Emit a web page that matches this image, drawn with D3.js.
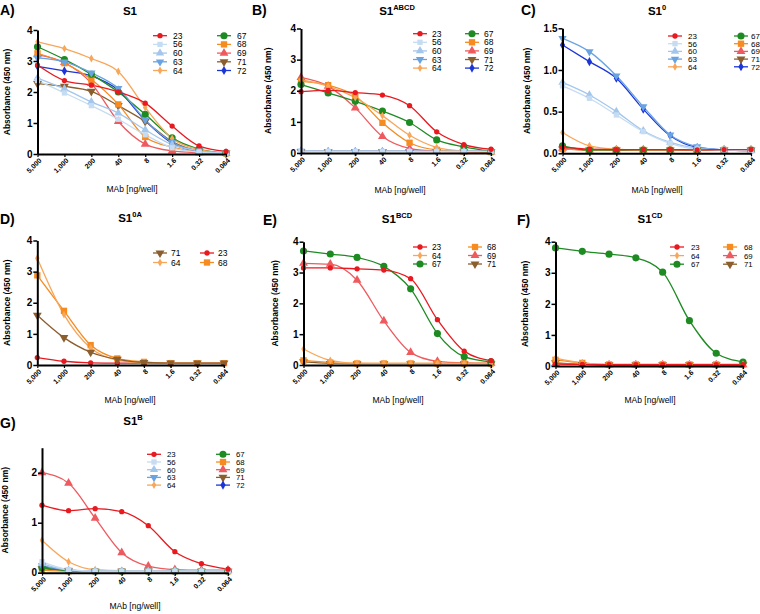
<!DOCTYPE html>
<html>
<head>
<meta charset="utf-8">
<script src="https://cdn.jsdelivr.net/npm/d3@7"></script>
<style>
  body { margin: 0; background: #fff; }
  svg { font-family: "Liberation Sans", Arial, sans-serif; }
</style>
</head>
<body>
<div id="chart"></div>
<script>
// dilution steps on the x axis
const doses = ["5,000", "1,000", "200", "40", "8", "1.6", "0.32", "0.064"];
const allMabs = ["23", "56", "60", "63", "64", "67", "68", "69", "71", "72"];

// A) S1
const valuesA = [
  [2.87, 2.37, 2.22, 2.0, 1.64, 0.9, 0.26, 0.08],
  [2.37, 1.97, 1.56, 1.12, 0.62, 0.2, 0.06, 0.02],
  [2.45, 2.1, 1.68, 1.32, 0.78, 0.3, 0.1, 0.03],
  [3.1, 2.97, 2.62, 2.12, 1.1, 0.38, 0.1, 0.03],
  [3.62, 3.4, 3.08, 2.66, 1.5, 0.5, 0.14, 0.03],
  [3.46, 3.05, 2.57, 2.0, 1.28, 0.52, 0.16, 0.03],
  [3.25, 2.93, 2.4, 1.6, 0.55, 0.22, 0.06, 0.02],
  [3.2, 2.95, 2.28, 1.05, 0.32, 0.1, 0.04, 0.02],
  [2.27, 2.18, 2.02, 1.56, 1.05, 0.4, 0.1, 0.03],
  [2.83, 2.68, 2.52, 2.06, 1.08, 0.35, 0.08, 0.02]
];
// B) S1 ABCD
const valuesB = [
  [1.97, 2.01, 1.94, 1.86, 1.52, 0.68, 0.27, 0.12],
  [0.06, 0.05, 0.05, 0.05, 0.05, 0.05, 0.05, 0.05],
  [0.07, 0.05, 0.05, 0.05, 0.05, 0.05, 0.05, 0.05],
  [0.06, 0.05, 0.05, 0.05, 0.05, 0.05, 0.05, 0.05],
  [2.35, 2.15, 1.78, 1.2, 0.57, 0.18, 0.06, 0.03],
  [2.2, 1.93, 1.66, 1.35, 0.98, 0.42, 0.2, 0.06],
  [2.3, 2.18, 1.83, 0.97, 0.33, 0.1, 0.05, 0.03],
  [2.43, 2.15, 1.45, 0.53, 0.15, 0.06, 0.04, 0.03],
  [0.05, 0.05, 0.05, 0.05, 0.05, 0.05, 0.05, 0.05],
  [0.05, 0.05, 0.05, 0.05, 0.05, 0.05, 0.05, 0.05]
];
// C) S1 0
const valuesC = [
  [0.07, 0.05, 0.045, 0.045, 0.045, 0.04, 0.045, 0.045],
  [0.81, 0.66, 0.46, 0.26, 0.12, 0.05, 0.04, 0.03],
  [0.85, 0.7, 0.5, 0.27, 0.13, 0.06, 0.04, 0.03],
  [1.38, 1.22, 0.93, 0.56, 0.22, 0.08, 0.04, 0.03],
  [0.25, 0.09, 0.05, 0.04, 0.04, 0.04, 0.04, 0.04],
  [0.09, 0.04, 0.04, 0.04, 0.04, 0.04, 0.04, 0.04],
  [0.05, 0.04, 0.04, 0.04, 0.04, 0.04, 0.04, 0.04],
  [0.06, 0.04, 0.04, 0.04, 0.04, 0.04, 0.04, 0.04],
  [0.05, 0.04, 0.04, 0.04, 0.04, 0.04, 0.04, 0.04],
  [1.3, 1.1, 0.9, 0.53, 0.21, 0.07, 0.04, 0.03]
];
// D) S1 0A
const mabsD = ["71", "64", "23", "68"];
const valuesD = [
  [1.6, 0.88, 0.41, 0.18, 0.08, 0.06, 0.06, 0.06],
  [3.43, 1.62, 0.55, 0.16, 0.07, 0.05, 0.05, 0.05],
  [0.24, 0.12, 0.07, 0.06, 0.06, 0.05, 0.05, 0.05],
  [2.88, 1.74, 0.64, 0.21, 0.1, 0.06, 0.06, 0.06]
];
// E) S1 BCD and F) S1 CD
const mabsEF = ["23", "64", "67", "68", "69", "71"];
const valuesE = [
  [3.15, 3.15, 3.12, 3.08, 2.8, 1.47, 0.45, 0.14],
  [0.52, 0.15, 0.06, 0.05, 0.05, 0.05, 0.05, 0.05],
  [3.7, 3.6, 3.49, 3.2, 2.47, 1.02, 0.27, 0.1],
  [0.15, 0.08, 0.05, 0.05, 0.05, 0.05, 0.05, 0.05],
  [3.3, 3.27, 2.75, 1.43, 0.41, 0.12, 0.07, 0.06],
  [0.1, 0.05, 0.04, 0.04, 0.04, 0.04, 0.04, 0.04]
];
const valuesF = [
  [0.06, 0.05, 0.04, 0.04, 0.04, 0.04, 0.04, 0.04],
  [0.25, 0.1, 0.05, 0.05, 0.05, 0.05, 0.05, 0.05],
  [3.8, 3.69, 3.6, 3.48, 3.02, 1.46, 0.41, 0.13],
  [0.2, 0.1, 0.05, 0.05, 0.05, 0.05, 0.05, 0.05],
  [0.08, 0.05, 0.04, 0.04, 0.04, 0.04, 0.04, 0.04],
  [0.1, 0.05, 0.04, 0.04, 0.04, 0.04, 0.04, 0.04]
];
// G) S1 B
const valuesG = [
  [1.35, 1.24, 1.28, 1.22, 0.94, 0.42, 0.18, 0.07],
  [0.22, 0.06, 0.03, 0.03, 0.03, 0.03, 0.03, 0.03],
  [0.18, 0.05, 0.03, 0.03, 0.03, 0.03, 0.03, 0.03],
  [0.14, 0.05, 0.03, 0.03, 0.03, 0.03, 0.03, 0.03],
  [0.65, 0.22, 0.06, 0.04, 0.04, 0.04, 0.04, 0.04],
  [0.1, 0.04, 0.03, 0.03, 0.03, 0.03, 0.03, 0.03],
  [0.05, 0.03, 0.03, 0.03, 0.03, 0.03, 0.03, 0.03],
  [2.0, 1.79, 1.09, 0.4, 0.13, 0.06, 0.05, 0.05],
  [0.08, 0.04, 0.03, 0.03, 0.03, 0.03, 0.03, 0.03],
  [0.12, 0.05, 0.03, 0.03, 0.03, 0.03, 0.03, 0.03]
];

// look of each antibody
const colors = {
  "23": "#e8191f", "56": "#c6dcf2", "60": "#a3c6ec", "63": "#6aa3e2", "64": "#f8a659",
  "67": "#1e8a22", "68": "#f68b1f", "69": "#ee5a5e", "71": "#8b5e2e", "72": "#1c35d8"
};
const shapes = {
  "23": [d3.symbolCircle, 22, 0], "56": [d3.symbolSquare, 28, 0], "60": [d3.symbolTriangle, 30, 0],
  "63": [d3.symbolTriangle, 30, 180], "64": [d3.symbolDiamond, 18, 0], "67": [d3.symbolCircle, 40, 0],
  "68": [d3.symbolSquare, 40, 0], "69": [d3.symbolTriangle, 34, 0], "71": [d3.symbolTriangle, 34, 180],
  "72": [d3.symbolDiamond, 24, 0]
};

// panel layout (pixels)
const panels = [
  {letter: "A)", lx: 0, ly: 15, title: "S1", sup: "", tx: 130, ty: 15, x0: 37.5, x1: 226, y0: 154, y1: 30, max: 4, ticks: [0,1,2,3,4], fmt: d3.format("d"),
   ylx: 10, xlx: 132, xly: 192, mabs: allMabs, values: valuesA,
   leg: {c1: 160, c2: 224, y: 35.7, dy: 8.7, off: 13, off2: 13, fs: 8.5, cols: [["23","56","60","63","64"],["67","68","69","71","72"]]}},
  {letter: "B)", lx: 252, ly: 15, title: "S1", sup: "ABCD", tx: 397, ty: 15, x0: 301, x1: 491, y0: 153, y1: 28.5, max: 4, ticks: [0,1,2,3,4], fmt: d3.format("d"),
   ylx: 271, xlx: 400, xly: 193, mabs: allMabs, values: valuesB,
   leg: {c1: 420, c2: 472, y: 33.7, dy: 8.6, off: 12, off2: 12, fs: 8.5, cols: [["23","56","60","63","64"],["67","68","69","71","72"]]}},
  {letter: "C)", lx: 521, ly: 15, title: "S1", sup: "0", tx: 657, ty: 15, x0: 562.5, x1: 751, y0: 153.3, y1: 28.3, max: 1.5, ticks: [0,0.5,1,1.5], fmt: d3.format(".1f"),
   ylx: 530, xlx: 657, xly: 193, mabs: allMabs, values: valuesC,
   leg: {c1: 675, c2: 741, y: 36, dy: 7.7, off: 13, off2: 10, fs: 8, cols: [["23","56","60","63","64"],["67","68","69","71","72"]]}},
  {letter: "D)", lx: 0, ly: 224, title: "S1", sup: "0A", tx: 130, ty: 222, x0: 37.3, x1: 224, y0: 365, y1: 240.5, max: 4, ticks: [0,1,2,3,4], fmt: d3.format("d"),
   ylx: 10, xlx: 130, xly: 403, mabs: mabsD, values: valuesD,
   leg: {c1: 160, c2: 207, y: 253, dy: 9.5, off: 11, off2: 11, fs: 8.5, cols: [["71","64"],["23","68"]]}},
  {letter: "E)", lx: 263, ly: 225, title: "S1", sup: "BCD", tx: 397, ty: 223, x0: 303.5, x1: 491, y0: 365, y1: 241.7, max: 4, ticks: [0,1,2,3,4], fmt: d3.format("d"),
   ylx: 278, xlx: 398, xly: 403, mabs: mabsEF, values: valuesE,
   leg: {c1: 420, c2: 475, y: 247, dy: 8.5, off: 12, off2: 12, fs: 8.3, cols: [["23","64","67"],["68","69","71"]]}},
  {letter: "F)", lx: 517, ly: 225, title: "S1", sup: "CD", tx: 650, ty: 223, x0: 555.5, x1: 743, y0: 366, y1: 241.7, max: 4, ticks: [0,1,2,3,4], fmt: d3.format("d"),
   ylx: 528, xlx: 650, xly: 403, mabs: mabsEF, values: valuesF,
   leg: {c1: 677, c2: 730, y: 247, dy: 8.6, off: 14, off2: 14, fs: 7.8, cols: [["23","64","67"],["68","69","71"]]}},
  {letter: "G)", lx: 0, ly: 428, title: "S1", sup: "B", tx: 133, ty: 425, x0: 42, x1: 228, y0: 572.7, y1: 447.7, max: 2.5, ticks: [0,1,2], fmt: d3.format("d"),
   ylx: 8, xlx: 135, xly: 609, mabs: allMabs, values: valuesG,
   leg: {c1: 154, c2: 223, y: 454.3, dy: 7.7, off: 13, off2: 13, fs: 7.8, cols: [["23","56","60","63","64"],["67","68","69","71","72"]]}}
];

const svg = d3.select("#chart").append("svg")
  .attr("width", 760).attr("height", 614);

function marker(g, id, x, y) {
  const s = shapes[id];
  g.append("path")
    .attr("d", d3.symbol().type(s[0]).size(s[1])())
    .attr("transform", `translate(${x},${y}) rotate(${s[2]})`)
    .attr("fill", colors[id]);
}

panels.forEach(p => {
  const g = svg.append("g");
  const x = d3.scalePoint().domain(doses).range([p.x0, p.x1]);
  const y = d3.scaleLinear().domain([0, p.max]).range([p.y0, p.y1]);

  // letter and title
  g.append("text").attr("x", p.lx).attr("y", p.ly)
    .attr("font-size", 14).attr("font-weight", "bold").text(p.letter);
  const t = g.append("text").attr("x", p.tx).attr("y", p.ty).attr("text-anchor", "middle")
    .attr("font-size", 11.5).attr("font-weight", "bold").text(p.title);
  if (p.sup) t.append("tspan").attr("dy", -5).attr("font-size", 7.5).text(p.sup);

  // curves, drawn from last to first so 23 is on top
  const line = d3.line()
    .x((d, i) => x(doses[i]))
    .y(d => y(d))
    .curve(d3.curveMonotoneX);
  const order = p.mabs.map((m, i) => i).reverse();
  order.forEach(i => {
    const id = p.mabs[i];
    g.append("path").datum(p.values[i])
      .attr("d", line)
      .attr("fill", "none")
      .attr("stroke", colors[id])
      .attr("stroke-width", 1.3);
  });
  order.forEach(i => {
    const id = p.mabs[i];
    p.values[i].forEach((v, j) => marker(g, id, x(doses[j]), y(v)));
  });

  // axes
  const ya = g.append("g").attr("transform", `translate(${p.x0},0)`)
    .call(d3.axisLeft(y).tickValues(p.ticks).tickFormat(p.fmt).tickSize(4).tickSizeOuter(0));
  ya.select(".domain").attr("stroke-width", 2);
  ya.selectAll(".tick line").attr("stroke-width", 1.5);
  ya.selectAll("text").attr("font-size", 10).attr("font-weight", "bold")
    .attr("font-family", "Liberation Sans, Arial, sans-serif").attr("x", -5);

  const xa = g.append("g").attr("transform", `translate(0,${p.y0})`)
    .call(d3.axisBottom(x).tickSize(3).tickSizeOuter(0));
  xa.select(".domain").attr("stroke-width", 2);
  xa.selectAll(".tick line").attr("stroke-width", 1.2);
  xa.selectAll("text")
    .attr("font-size", 7).attr("font-weight", "bold")
    .attr("font-family", "Liberation Sans, Arial, sans-serif")
    .attr("text-anchor", "end")
    .attr("dy", null).attr("y", null)
    .attr("transform", "translate(4,7) rotate(-45)");

  // axis titles
  g.append("text")
    .attr("transform", `translate(${p.ylx},${(p.y0 + p.y1) / 2}) rotate(-90)`)
    .attr("text-anchor", "middle").attr("font-size", 8.5).attr("font-weight", "bold")
    .text("Absorbance (450 nm)");
  g.append("text").attr("x", p.xlx).attr("y", p.xly).attr("text-anchor", "middle")
    .attr("font-size", 8.5).text("MAb [ng/well]");

  // legend
  p.leg.cols.forEach((col, ci) => {
    const cx = ci === 0 ? p.leg.c1 : p.leg.c2;
    const off = ci === 0 ? p.leg.off : p.leg.off2;
    col.forEach((id, ri) => {
      const ly = p.leg.y + ri * p.leg.dy;
      g.append("line").attr("x1", cx - 7).attr("x2", cx + 7).attr("y1", ly).attr("y2", ly)
        .attr("stroke", colors[id]).attr("stroke-width", 1.3);
      marker(g, id, cx, ly);
      g.append("text").attr("x", cx + off).attr("y", ly + 3)
        .attr("font-size", p.leg.fs).text(id);
    });
  });
});
</script>
</body>
</html>
